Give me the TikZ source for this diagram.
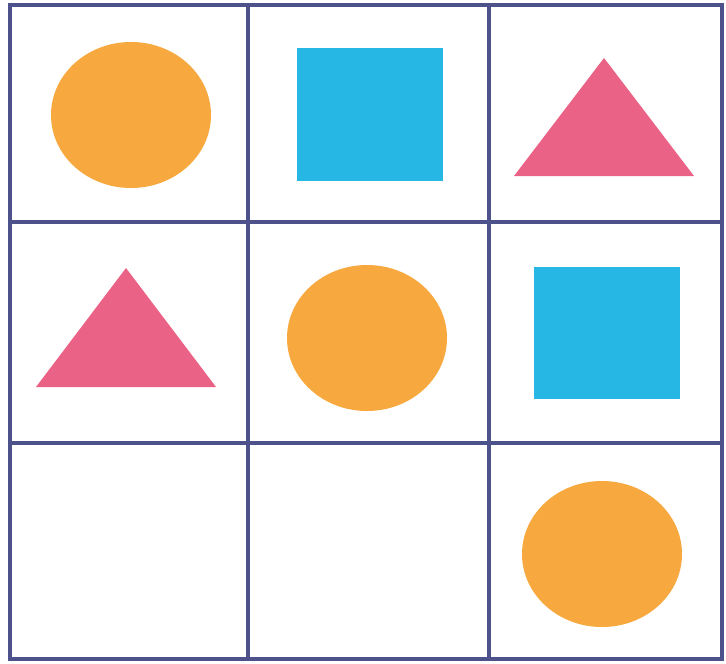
\documentclass[tikz,border=0pt]{standalone}
\definecolor{gridblue}{RGB}{78,82,138}
\definecolor{discorange}{RGB}{247,168,62}
\definecolor{squareblue}{RGB}{38,183,228}
\definecolor{trianglepink}{RGB}{234,98,134}
\tikzset{
  gridline/.style={draw=gridblue, line width=2.2pt, line cap=rect},
  disc/.style={fill=discorange},
  block/.style={fill=squareblue},
  peak/.style={fill=trianglepink}
}
\begin{document}
\begin{tikzpicture}[x=0.02cm, y=-0.02cm]
  \useasboundingbox[fill=white] (0,0) rectangle (726,663);
  % grid
  \foreach \x in {10,248,489,722} {\draw[gridline] (\x,5) -- (\x,659);}
  \foreach \y in {5,222,443,659} {\draw[gridline] (10,\y) -- (722,\y);}

  % row 1
  \fill[disc] (131,115) ellipse (80 and 73);
  \fill[block] (297,48) rectangle (443,181);
  \fill[peak] (604,58) -- (694,176) -- (514,176) -- cycle;

  % row 2
  \fill[peak] (126,268) -- (216,387) -- (36,387) -- cycle;
  \fill[disc] (367,338) ellipse (80 and 73);
  \fill[block] (534,267) rectangle (680,399);

  % row 3
  \fill[disc] (602,554) ellipse (80 and 73);
\end{tikzpicture}
\end{document}
